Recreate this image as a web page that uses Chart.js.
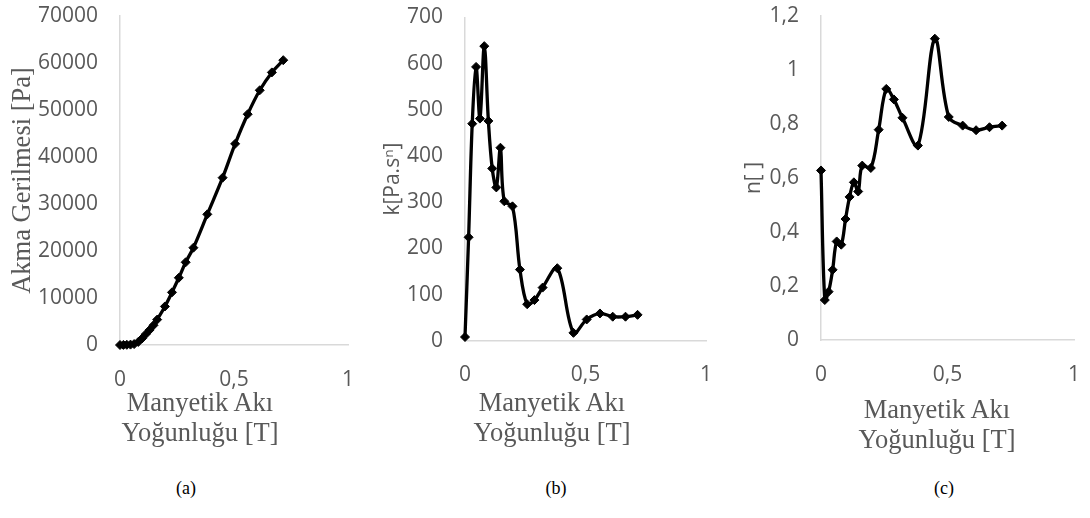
<!DOCTYPE html>
<html>
<head>
<meta charset="utf-8">
<script src="https://cdn.jsdelivr.net/npm/chart.js@4/dist/chart.umd.min.js"></script>
<style>
  html, body { margin: 0; padding: 0; background: #fff; }
  body { width: 1090px; height: 518px; position: relative; overflow: hidden; }
  canvas { position: absolute; top: 0; }
  .xtitle {
    position: absolute; width: 240px; text-align: center; white-space: nowrap;
    font-family: "Liberation Serif", "Times New Roman", serif; font-size: 26.5px;
    line-height: 30px; color: #595959;
  }
  .caption {
    position: absolute; width: 60px; text-align: center;
    font-family: "Liberation Serif", "Times New Roman", serif; font-size: 18px;
    line-height: 20px; color: #000;
  }
</style>
</head>
<body>
<canvas id="chartA" width="360" height="400" style="left:0px"></canvas>
<canvas id="chartB" width="348" height="400" style="left:370px"></canvas>
<canvas id="chartC" width="356" height="400" style="left:730px"></canvas>

<div class="xtitle" style="left:80px; top:387px">Manyetik Akı<br>Yoğunluğu [T]</div>
<div class="xtitle" style="left:432px; top:387px">Manyetik Akı<br>Yoğunluğu [T]</div>
<div class="xtitle" style="left:817px; top:394px">Manyetik Akı<br>Yoğunluğu [T]</div>

<div class="caption" style="left:156px; top:478px">(a)</div>
<div class="caption" style="left:526px; top:478px">(b)</div>
<div class="caption" style="left:914px; top:478px">(c)</div>

<script>
// Magnetic flux density [T] at each measurement
const magneticFlux = [0, 0.015, 0.03, 0.046, 0.062, 0.08, 0.097, 0.113, 0.13, 0.147, 0.163,
  0.197, 0.228, 0.258, 0.288, 0.322, 0.383, 0.45, 0.505, 0.56, 0.613, 0.666, 0.716];

// (a) yield stress [Pa]
const yieldStress = [0, 20, 40, 80, 200, 650, 1400, 2300, 3200, 4200, 5400,
  8200, 11200, 14300, 17600, 20700, 27800, 35600, 42800, 49100, 54200, 58000, 60600];

// (b) consistency index k [Pa.s^n]
const consistencyK = [8, 224, 470, 593, 481, 638, 476, 373, 332, 418, 302,
  291, 154, 79, 88, 115, 157, 17, 46, 59, 52, 52, 56];

// (c) flow behaviour index n [-]
const flowIndexN = [0.628, 0.148, 0.179, 0.26, 0.365, 0.353, 0.448, 0.53, 0.584, 0.55, 0.646,
  0.637, 0.779, 0.93, 0.891, 0.823, 0.72, 1.116, 0.826, 0.794, 0.777, 0.788, 0.794];

// Axis tick settings
const xTicks = { min: 0, max: 1, step: 0.5 };
const yTicksA = { min: 0, max: 70000, step: 10000 };
const yTicksB = { min: 0, max: 700, step: 100 };
const yTicksC = { min: 0, max: 1.2, step: 0.2 };

const GRAY = '#595959';
const AXIS = '#d9d9d9';
const SANS = "'Open Sans', 'Liberation Sans', sans-serif";
const SERIF = "'Liberation Serif', 'Times New Roman', serif";

// decimal comma, as in the Turkish locale
const fmt = v => String(Math.round(v * 1000) / 1000).replace('.', ',');

// fixed axis box size; label overhang is absorbed by the layout padding
function fixBox(prop, size) {
  return s => {
    s[prop] = size;
    s.paddingTop = s.paddingBottom = s.paddingLeft = s.paddingRight = 0;
  };
}

function makeChart(id, values, yTicks, cfg) {
  const points = magneticFlux.map((x, i) => ({ x, y: values[i] }));
  return new Chart(document.getElementById(id), {
    type: 'line',
    data: {
      datasets: [{
        data: points,
        borderColor: '#000',
        backgroundColor: '#000',
        borderWidth: 3.3,
        tension: 0.35,
        pointStyle: 'rectRot',
        pointRadius: 4.5,
        pointBorderWidth: 1,
        pointBorderColor: '#000',
        pointBackgroundColor: '#000',
        clip: false
      }]
    },
    options: {
      responsive: false,
      animation: false,
      devicePixelRatio: 1,
      layout: { padding: { left: 0, top: cfg.top, right: 12, bottom: 0 } },
      plugins: { legend: { display: false }, tooltip: { enabled: false } },
      scales: {
        x: {
          type: 'linear',
          min: xTicks.min, max: xTicks.max,
          grid: { display: false, drawTicks: false },
          border: { display: true, color: AXIS, width: 1.5 },
          ticks: {
            stepSize: xTicks.step, padding: 22, color: GRAY, maxRotation: 0,
            font: { family: SANS, size: 21 }, callback: fmt
          },
          afterFit: fixBox('height', 400 - cfg.bottom)
        },
        y: {
          type: 'linear',
          min: yTicks.min, max: yTicks.max,
          grid: { display: false, drawTicks: false },
          border: { display: true, color: AXIS, width: 1.5 },
          ticks: {
            stepSize: yTicks.step, padding: 22, color: GRAY,
            font: { family: SANS, size: 21 }, callback: fmt
          },
          title: {
            display: true, text: cfg.title, color: GRAY,
            font: { family: cfg.titleFont, size: cfg.titleSize },
            padding: { top: cfg.titlePad, bottom: 0 }
          },
          afterFit: fixBox('width', cfg.yw)
        }
      }
    }
  });
}

makeChart('chartA', yieldStress, yTicksA, {
  top: 16, bottom: 345, yw: 120, title: 'Akma Gerilmesi [Pa]',
  titleFont: SERIF, titleSize: 26.5, titlePad: 7
});
makeChart('chartB', consistencyK, yTicksB, {
  top: 17.5, bottom: 340.7, yw: 95, title: 'k[Pa.sⁿ]',
  titleFont: SANS, titleSize: 21, titlePad: 10
});
makeChart('chartC', flowIndexN, yTicksC, {
  top: 16, bottom: 340, yw: 91, title: 'n[ ]',
  titleFont: SANS, titleSize: 21, titlePad: 11
});
</script>
</body>
</html>
